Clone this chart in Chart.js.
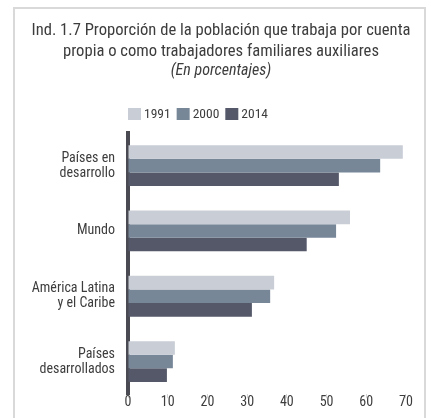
<!DOCTYPE html>
<html>
<head>
<meta charset="utf-8">
<script src="https://cdn.jsdelivr.net/npm/chart.js@4"></script>
<style>
  html, body { margin: 0; padding: 0; background: #fff; overflow: hidden; }
  #wrap { position: relative; width: 431px; height: 418px; }
  #frame { position: absolute; left: 13px; top: 7px; width: 409px; height: 430px; border: 2px solid #d9d9d9; }
  #chart-box { position: absolute; left: 0; top: 0; width: 431px; height: 418px; }
</style>
</head>
<body>
<div id="wrap">
  <div id="frame"></div>
  <div id="chart-box"><canvas id="chart"></canvas></div>
</div>
<script>
/* ---------- data ---------- */

const categories = [
  ['Países en', 'desarrollo'],
  'Mundo',
  ['América Latina', 'y el Caribe'],
  ['Países', 'desarrollados']
];
const years = ['1991', '2000', '2014'];
const values1991 = [69.2, 55.9, 36.8, 11.8];
const values2000 = [63.5, 52.4, 35.8, 11.3];
const values2014 = [53.1, 45.0, 31.2, 9.8];
const xTicks = [0, 10, 20, 30, 40, 50, 60, 70];

const colors = ['#c9cdd6', '#778798', '#545869'];
const FONT = "'Roboto Condensed', 'Liberation Sans Narrow', 'DejaVu Sans Condensed', sans-serif";
const TEXT = '#3d3d3d';

/* ---------- legend drawn by hand (sits left of centre in the original) ---------- */

const customLegend = {
  id: 'customLegend',
  afterDraw(chart) {
    const ctx = chart.ctx;
    const box = 13, y = 108;
    let x = chart.chartArea.left;
    ctx.save();
    ctx.font = '13.5px ' + FONT;
    ctx.textBaseline = 'middle';
    ctx.textAlign = 'left';
    chart.data.datasets.forEach(ds => {
      ctx.fillStyle = ds.backgroundColor;
      ctx.fillRect(x, y, box, 12);
      x += box + 3;
      ctx.fillStyle = TEXT;
      ctx.fillText(ds.label, x, y + 6.5);
      x += ctx.measureText(ds.label).width + 6;
    });
    ctx.restore();
  }
};

/* ---------- chart ---------- */

const seriesValues = [values1991, values2000, values2014];

new Chart(document.getElementById('chart').getContext('2d'), {
  type: 'bar',
  data: {
    labels: categories,
    datasets: years.map((y, i) => ({
      label: y,
      data: seriesValues[i],
      backgroundColor: colors[i],
      borderWidth: 0,
      barPercentage: 1,
      categoryPercentage: 0.625
    }))
  },
  options: {
    indexAxis: 'y',
    responsive: true,
    maintainAspectRatio: false,
    animation: false,
    layout: { padding: { left: 11, right: 0, top: 0, bottom: 11 } },
    plugins: {
      legend: { display: false },
      tooltip: { enabled: false },
      title: {
        display: true,
        text: ['Ind. 1.7 Proporción de la población que trabaja por cuenta',
               'propia o como trabajadores familiares auxiliares'],
        color: TEXT,
        font: { family: FONT, size: 16.6, weight: 'normal', lineHeight: '21px' },
        padding: { top: 20, bottom: 0 }
      },
      subtitle: {
        display: true,
        text: '(En porcentajes)',
        color: TEXT,
        font: { family: FONT, size: 16, style: 'italic', weight: 'normal', lineHeight: '18px' },
        padding: { top: 0, bottom: 53 }
      }
    },
    scales: {
      x: {
        min: 0,
        max: 76.3,
        afterBuildTicks: scale => { scale.ticks = xTicks.map(v => ({ value: v })); },
        grid: { drawOnChartArea: false, drawTicks: true, tickLength: 4, color: '#d4d4d4' },
        border: { display: false },
        ticks: { color: TEXT, font: { family: FONT, size: 14 }, padding: -4, maxRotation: 0 }
      },
      y: {
        afterFit: scale => { scale.width = 117; },
        grid: { display: false, drawTicks: true, tickLength: 13 },
        border: { display: true, color: '#4a4a52', width: 4 },
        ticks: { color: TEXT, font: { family: FONT, size: 14, lineHeight: '15px' }, padding: 0 }
      }
    }
  },
  plugins: [customLegend]
});
</script>
</body>
</html>
